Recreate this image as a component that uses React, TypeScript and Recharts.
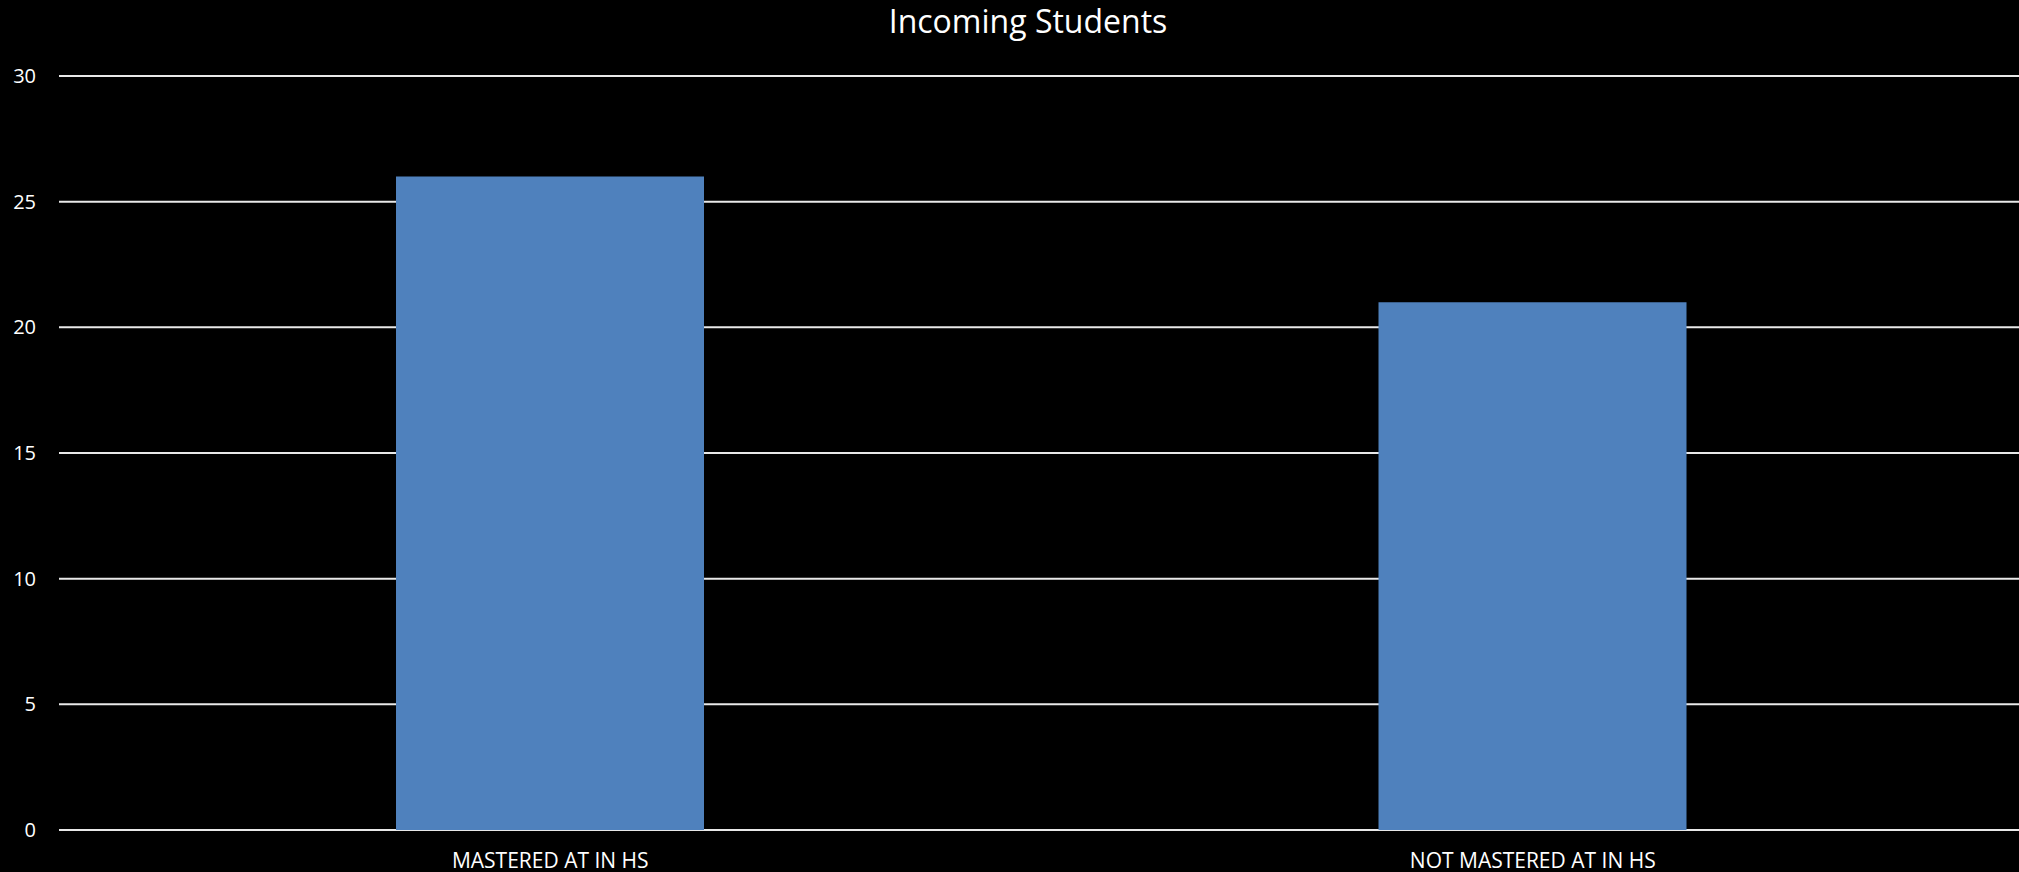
import { BarChart, Bar, XAxis, YAxis, CartesianGrid } from "recharts"

const categories = ["MASTERED AT IN HS", "NOT MASTERED AT IN HS"]
const students = [26, 21]
const yTicks = [0, 5, 10, 15, 20, 25, 30]

const data = categories.map((name, i) => ({ name, students: students[i] }))

const font = "'Open Sans', sans-serif"

export default function App() {
  return (
    <div
      style={{
        position: "absolute",
        left: 0,
        top: 0,
        width: 2019,
        height: 872,
        overflow: "hidden",
        background: "#000",
        fontFamily: font,
      }}
    >
      <div
        style={{
          position: "absolute",
          left: 1028 - 300,
          width: 600,
          top: 5,
          textAlign: "center",
          color: "#fff",
          fontSize: 32,
          lineHeight: 1,
        }}
      >
        Incoming Students
      </div>
      {/* plot runs a few px past the right edge in the original */}
      <BarChart
        width={2024}
        height={872}
        data={data}
        margin={{ top: 76, right: 0, left: 0, bottom: 0 }}
      >
        <CartesianGrid vertical={false} stroke="#e8e8e8" strokeWidth={2} />
        <XAxis
          dataKey="name"
          height={42}
          axisLine={false}
          tickLine={false}
          tickMargin={17}
          tick={{ fill: "#fff", fontSize: 21, fontFamily: font }}
        />
        <YAxis
          width={59}
          domain={[0, 30]}
          ticks={yTicks}
          axisLine={false}
          tickLine={false}
          tickMargin={17}
          tick={{ fill: "#fff", fontSize: 20, fontFamily: font }}
        />
        <Bar dataKey="students" fill="#4F81BD" barSize={308} isAnimationActive={false} />
      </BarChart>
    </div>
  )
}
